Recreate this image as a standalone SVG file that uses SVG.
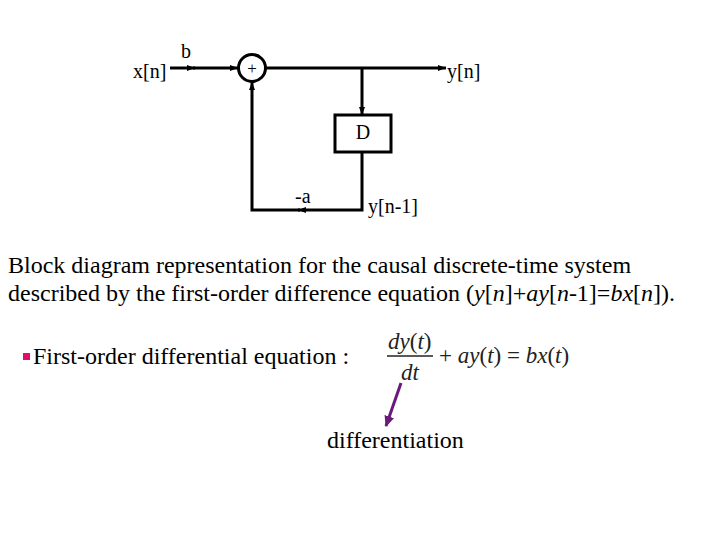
<svg xmlns="http://www.w3.org/2000/svg" width="720" height="540" viewBox="0 0 720 540">
<defs>
<style>
.t{font-family:"Liberation Serif","Times New Roman",serif;fill:#000}
.lb{font-size:20px}
.cap{font-size:24px}
.ln{stroke:#000;stroke-width:3;fill:none}
.eq{font-family:"Liberation Serif","Times New Roman",serif;fill:#222;font-size:23px}
</style>
<marker id="ah" markerWidth="8" markerHeight="6" refX="8" refY="3" orient="auto" markerUnits="userSpaceOnUse">
<path d="M0,0 L8,3 L0,6 Z" fill="#000"/>
</marker>
<marker id="ahp" markerWidth="12" markerHeight="10" refX="10" refY="5" orient="auto" markerUnits="userSpaceOnUse">
<path d="M0,0 L11,5 L0,10 Z" fill="#6a1a7a"/>
</marker>
</defs>
<rect width="720" height="540" fill="#fff"/>
<g id="connectors">
<line class="ln" x1="170" y1="68" x2="195" y2="68" marker-end="url(#ah)"/>
<line class="ln" x1="193" y1="68" x2="238" y2="68" marker-end="url(#ah)"/>
<line class="ln" x1="266" y1="68" x2="446" y2="68" marker-end="url(#ah)"/>
<line class="ln" x1="362" y1="68" x2="362" y2="115" marker-end="url(#ah)"/>
<polyline class="ln" points="362,152 362,210 298,210" marker-end="url(#ah)"/>
<polyline class="ln" points="300,210 252,210 252,82" marker-end="url(#ah)"/>
</g>
<g id="sum">
<circle class="ln" cx="252" cy="68" r="13.5"/>
<text class="t" x="252" y="74" font-size="17" text-anchor="middle">+</text>
</g>
<g id="delay">
<rect class="ln" x="335" y="115" width="56" height="37"/>
<text class="t lb" x="363" y="139" text-anchor="middle">D</text>
</g>
<g id="labels">
<text class="t lb" x="133" y="78">x[n]</text>
<text class="t lb" x="181" y="58">b</text>
<text class="t lb" x="447" y="78">y[n]</text>
<text class="t lb" x="295" y="203">-a</text>
<text class="t lb" x="368" y="213">y[n-1]</text>
</g>
<g id="caption">
<text class="t cap" x="8" y="273">Block diagram representation for the causal discrete-time system</text>
<text class="t cap" x="8" y="301">described by the first-order difference equation (<tspan font-style="italic">y</tspan>[<tspan font-style="italic">n</tspan>]+<tspan font-style="italic">ay</tspan>[<tspan font-style="italic">n</tspan>-1]=<tspan font-style="italic">bx</tspan>[<tspan font-style="italic">n</tspan>]).</text>
</g>
<g id="bullet">
<rect x="23" y="353" width="7" height="7" fill="#e0106a"/>
<text class="t cap" x="33" y="364">First-order differential equation :</text>
</g>
<g id="equation">
<text class="eq" x="388" y="349"><tspan font-style="italic">dy</tspan>(<tspan font-style="italic">t</tspan>)</text>
<line x1="387" y1="356" x2="433" y2="356" stroke="#222" stroke-width="1.5"/>
<text class="eq" x="401" y="380" font-style="italic">dt</text>
<text class="eq" x="439" y="363">+ <tspan font-style="italic">ay</tspan>(<tspan font-style="italic">t</tspan>) = <tspan font-style="italic">bx</tspan>(<tspan font-style="italic">t</tspan>)</text>
</g>
<g id="pointer">
<line x1="401" y1="383" x2="386" y2="426" stroke="#6a1a7a" stroke-width="3" marker-end="url(#ahp)"/>
<text class="t cap" x="327" y="448">differentiation</text>
</g>
</svg>
